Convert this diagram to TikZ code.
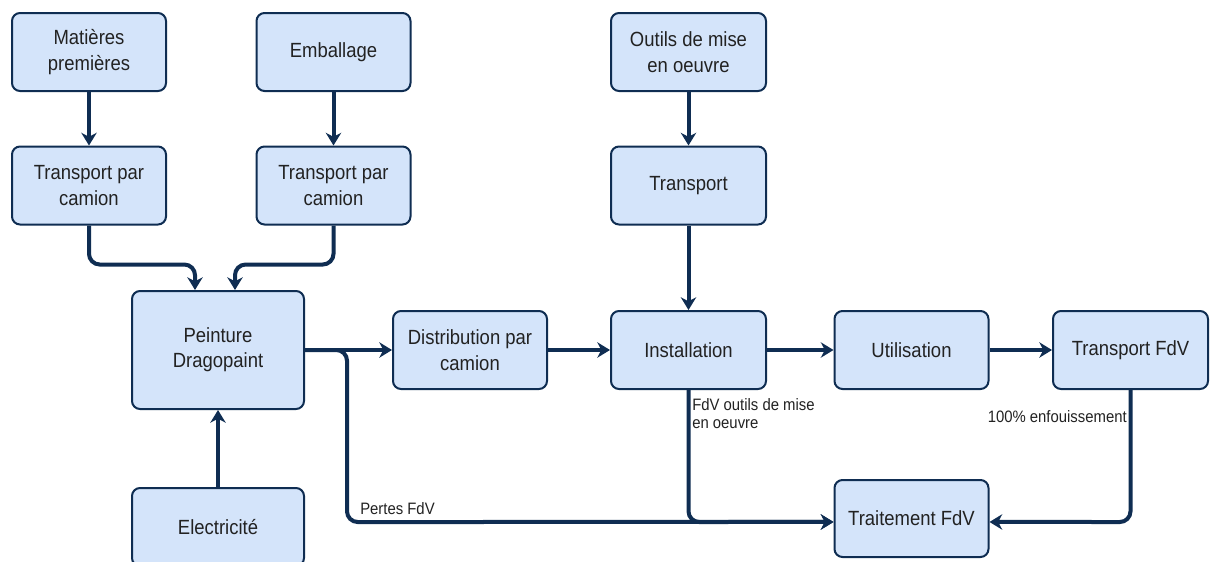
\documentclass[tikz,border=0pt]{standalone}
\usepackage{fontspec}
\setmainfont{Liberation Sans}[FakeStretch=0.9]
\usetikzlibrary{arrows.meta,calc}
\definecolor{boxfill}{HTML}{D4E4FA}
\definecolor{navy}{HTML}{0F2D52}
\definecolor{txt}{HTML}{222222}
\tikzset{
  box/.style={draw=navy, line width=1.5pt, fill=boxfill, rounded corners=6pt,
    minimum width=115.5pt, minimum height=58.5pt, align=center, text=txt,
    font=\fontsize{15.4}{19}\selectfont, inner sep=2pt},
  flow/.style={draw=navy, line width=3pt, rounded corners=8pt,
    -{Stealth[length=9.5pt,width=11.5pt,inset=3pt]}},
  lbl/.style={text=txt, font=\fontsize{12.4}{12.5}\selectfont, inner sep=0pt, align=left}
}
\begin{document}
\begin{tikzpicture}[x=0.75pt,y=-0.75pt]
\useasboundingbox (0,0) rectangle (1210,561);
\clip (0,0) rectangle (1210,561);
% nodes
\node[box] (mat) at (89,52) {Matières\\premières};
\node[box] (emb) at (333.5,52) {Emballage};
\node[box] (tr1) at (89,185.5) {Transport par\\camion};
\node[box] (tr2) at (333.5,185.5) {Transport par\\camion};
\node[box, minimum width=116.25pt] (out) at (688.5,52) {Outils de mise\\en oeuvre};
\node[box, minimum width=116.25pt] (trn) at (688.5,185.5) {Transport};
\node[box, minimum width=129pt, minimum height=88.5pt] (pein) at (218,350) {Peinture\\Dragopaint};
\node[box, minimum width=129pt] (elec) at (218,527) {Electricité};
\node[box] (dist) at (470,350) {Distribution par\\camion};
\node[box, minimum width=116.25pt] (inst) at (688.5,350) {Installation};
\node[box] (util) at (911.5,350) {Utilisation};
\node[box, minimum width=116.25pt] (tfdv) at (1130.5,350) {Transport FdV};
\node[box, minimum height=57.75pt] (trait) at (911.5,518.5) {Traitement FdV};
% connectors
\draw[flow] (mat.south) -- (tr1.north);
\draw[flow] (emb.south) -- (tr2.north);
\draw[flow] (out.south) -- (trn.north);
\draw[flow] (trn.south) -- (inst.north);
\draw[flow] (tr1.south) -- ++(0,39) -| ([xshift=-17.25pt]pein.north);
\draw[flow] (tr2.south) -- ++(0,39) -| ([xshift=12.75pt]pein.north);
\draw[flow] (elec.north) -- (pein.south);
\draw[flow] (pein.east) -- (dist.west);
\draw[flow] (dist.east) -- (inst.west);
\draw[flow] (inst.east) -- (util.west);
\draw[flow] (util.east) -- (tfdv.west);
\draw[flow] (pein.east) -- (347,350) -- (347,522) -- ([yshift=-2.6pt]trait.west);
\draw[flow] (inst.south) -- (688.5,522) -- ([yshift=-2.6pt]trait.west);
\draw[flow] (tfdv.south) -- (1130.5,522) -- ([yshift=-2.6pt]trait.east);
% labels
\node[lbl, anchor=west] (lp) at (360,509) {Pertes FdV};
\node[lbl, anchor=north west] (lo) at (692,398) {FdV outils de mise\\[1pt]en oeuvre};
\node[lbl, anchor=east] (le) at (1127,417) {100\% enfouissement};
\end{tikzpicture}
\end{document}
